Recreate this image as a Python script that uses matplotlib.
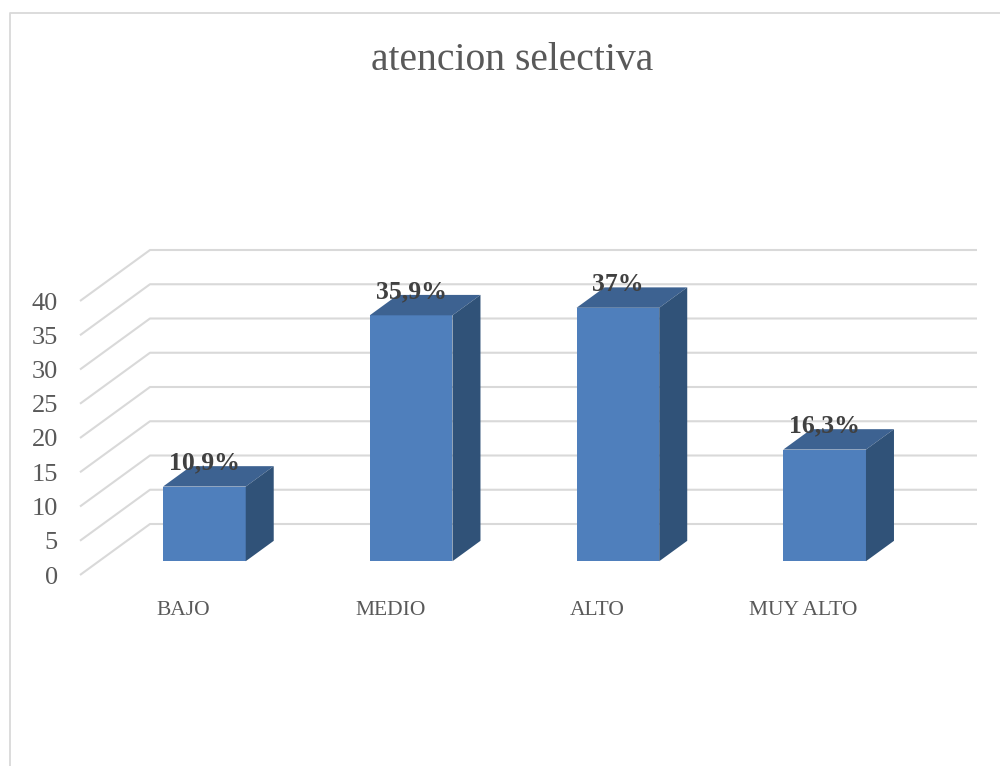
import matplotlib
matplotlib.use('Agg')
from matplotlib import pyplot as plt
from matplotlib.patches import Polygon

categories = ['BAJO', 'MEDIO', 'ALTO', 'MUY ALTO']
values = [10.9, 35.9, 37, 16.3]
labels = ['10,9%', '35,9%', '37%', '16,3%']
y_ticks = [0, 5, 10, 15, 20, 25, 30, 35, 40]
title = 'atencion selectiva'

_W, _H = 1000, 766
_FONT = 'Liberation Serif'
_GRID = '#d9d9d9'
_FRONT, _TOP, _SIDE = '#4f7fbc', '#3d6291', '#305278'

# oblique depth of the floor, in data units
_DX = 70 / 206.75
_DY = 51 / 6.85
_BAR_W = 0.4

fig = plt.figure(figsize = (_W / 100, _H / 100), dpi = 100)
ax = fig.add_axes([80 / _W, 1 - 575 / _H, 827 / _W, 274 / _H])
ax.set_xlim(-0.5, 3.5)
ax.set_ylim(0, 40)
ax.patch.set_visible(False)
for s in ax.spines.values():
  s.set_visible(False)

# walls: floor + side gridlines
for v in y_ticks:
  ax.plot([-0.5, -0.5 + _DX, 3.5 + _DX], [v, v + _DY, v + _DY], color = _GRID, lw = 1.5, clip_on = False, zorder = 1, solid_capstyle = 'butt')

# bars, front at 0.3 of depth and back at 0.7
for i, v in enumerate(values):
  x0 = i - _BAR_W / 2 + 0.3 * _DX
  x1 = i + _BAR_W / 2 + 0.3 * _DX
  y0 = 0.27 * _DY
  y1 = y0 + v
  dx = 0.4 * _DX
  dy = 0.4 * _DY
  ax.add_patch(Polygon([(x0, y0), (x1, y0), (x1, y1), (x0, y1)], fc = _FRONT, ec = 'none', clip_on = False, zorder = 3))
  ax.add_patch(Polygon([(x0, y1), (x1, y1), (x1 + dx, y1 + dy), (x0 + dx, y1 + dy)], fc = _TOP, ec = 'none', clip_on = False, zorder = 3))
  ax.add_patch(Polygon([(x1, y0), (x1 + dx, y0 + dy), (x1 + dx, y1 + dy), (x1, y1)], fc = _SIDE, ec = 'none', clip_on = False, zorder = 3))
  ax.text((x0 + x1) / 2, y1 + 3.4, labels[i], ha = 'center', va = 'center', family = _FONT, weight = 'bold', fontsize = 18.5, color = '#404040', zorder = 4)

ax.set_xticks(range(len(categories)), categories)
ax.set_yticks(y_ticks)
ax.tick_params(axis = 'both', length = 0, labelcolor = '#595959')
ax.tick_params(axis = 'x', pad = 19, labelsize = 15.5)
ax.tick_params(axis = 'y', pad = 16, labelsize = 19)
for t in ax.get_xticklabels() + ax.get_yticklabels():
  t.set_family(_FONT)

# chart frame, only top and left show
fig.add_artist(plt.Line2D([10 / _W, 10 / _W, 1], [0, 1 - 13 / _H, 1 - 13 / _H], color = _GRID, lw = 1.3))
fig.text(512 / _W, 1 - 60 / _H, title, ha = 'center', va = 'center', family = _FONT, fontsize = 28.5, color = '#595959')

fig.savefig('out.png', dpi = 100)
